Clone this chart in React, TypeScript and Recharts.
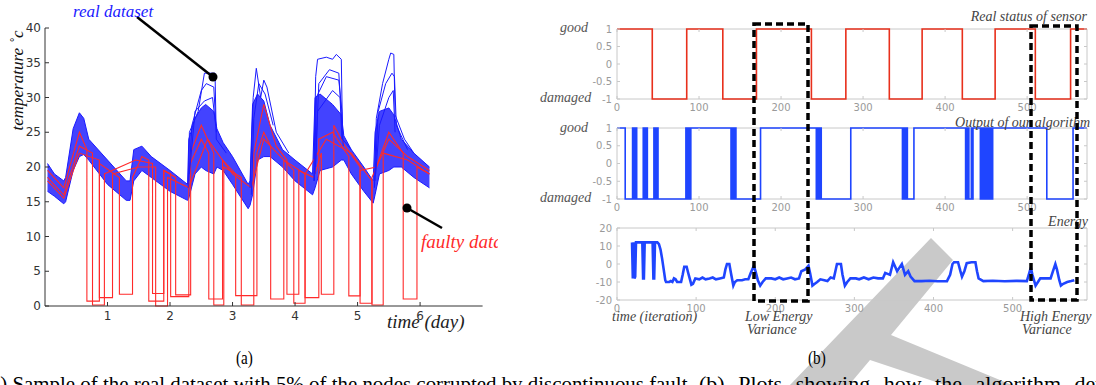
import React from 'react';
import { ComposedChart, LineChart, Line, Area, XAxis, YAxis, ReferenceArea } from 'recharts';

// ---- panel (a): temperature of the sensors (days) ----
const bandDays = [0.04, 0.15, 0.3, 0.33, 0.45, 0.55, 0.62, 0.7, 1.0, 1.3, 1.36, 1.42, 1.55, 1.7, 2.0, 2.28, 2.3, 2.4, 2.5, 2.57, 2.7, 2.75, 2.85, 3.0, 3.25, 3.28, 3.32, 3.4, 3.5, 3.6, 3.8, 4.0, 4.28, 4.32, 4.4, 4.6, 4.74, 4.78, 4.9, 5.1, 5.25, 5.28, 5.35, 5.5, 5.58, 5.7, 5.9, 6.15];
const bandLow = [16.5, 15.8, 14.7, 15, 19.5, 21.5, 21.8, 21, 17.5, 15.2, 15.2, 18, 19.5, 18.5, 16.5, 15.2, 15.5, 19, 20, 19.5, 19, 20, 19.5, 17.5, 14, 14.5, 16, 21, 21.5, 21.5, 20, 18, 16, 17, 19.5, 20, 21, 21, 19, 16.5, 14.8, 16, 19, 19.5, 20, 20, 18.5, 17];
const bandHigh = [20.5, 19, 18, 18.5, 25.5, 27.8, 27, 24, 21, 18, 18, 22.5, 23, 21.5, 19.5, 17.5, 24, 27, 28.5, 29, 28, 25.5, 23.5, 21.5, 17.5, 18, 29, 30.5, 29.5, 26, 22.5, 21, 19, 30, 30.5, 29, 27.5, 24.5, 22.5, 20, 18, 25, 28, 28.5, 27.5, 24, 22, 20];

const spikeA: [number, number][] = [[2.29, 17], [2.31, 25], [2.45, 28], [2.55, 33.5], [2.72, 33.5], [2.74, 24], [2.9, 22]];
const spikeB: [number, number][] = [[2.3, 18], [2.35, 26], [2.5, 31], [2.58, 32], [2.7, 31.5], [2.74, 25]];
const spikeB2: [number, number][] = [[2.31, 19], [2.4, 28], [2.55, 29.5], [2.68, 30], [2.73, 26]];
const spikeC: [number, number][] = [[3.28, 17], [3.33, 30], [3.38, 34.2], [3.45, 30], [3.5, 32.5], [3.55, 31.5], [3.7, 25], [3.9, 22]];
const spikeD: [number, number][] = [[3.3, 16], [3.34, 27], [3.42, 32], [3.52, 30.5], [3.65, 26]];
const spikeE: [number, number][] = [[4.3, 18], [4.33, 33], [4.36, 35.5], [4.5, 35.8], [4.6, 35.5], [4.66, 36.2], [4.74, 35.5], [4.76, 24], [4.9, 22.5]];
const spikeF: [number, number][] = [[4.31, 18], [4.34, 30], [4.5, 33], [4.7, 32.5], [4.75, 28], [4.77, 23]];
const spikeG: [number, number][] = [[4.33, 20], [4.36, 28], [4.6, 31], [4.72, 30], [4.75, 24]];
const spikeG2: [number, number][] = [[4.32, 19], [4.38, 32], [4.55, 34], [4.7, 33.5], [4.75, 26]];
const spikeH: [number, number][] = [[5.27, 17], [5.3, 27], [5.4, 32], [5.5, 35.5], [5.53, 36.4], [5.58, 36.2], [5.6, 27.5], [5.75, 24], [5.9, 22]];
const spikeI: [number, number][] = [[5.28, 18], [5.33, 28], [5.45, 32], [5.55, 33.5], [5.59, 33], [5.62, 26], [5.8, 22.5]];
const spikeJ: [number, number][] = [[5.29, 19], [5.35, 26], [5.5, 30], [5.57, 31], [5.6, 25]];

const faultyA: [number, number][] = [[0.04, 19.5], [0.3, 17], [0.55, 25], [0.67, 22.5], [0.67, 0.7], [0.87, 0.7], [0.87, 20.5], [1.19, 18.5], [1.19, 1.7], [1.4, 1.7], [1.4, 18.5], [1.55, 21.5], [1.66, 21], [1.66, 0.7], [1.9, 0.7], [1.9, 19.5], [2.01, 19], [2.01, 1.35], [2.3, 1.35], [2.3, 20], [2.5, 24], [2.62, 22], [2.62, 1], [2.84, 1], [2.84, 21], [3.05, 19], [3.05, 1.5], [3.39, 1.5], [3.39, 22], [3.5, 25], [3.61, 23], [3.61, 1], [3.82, 1], [3.82, 21], [4.16, 19], [4.16, 1.2], [4.38, 1.2], [4.38, 24], [4.6, 25], [4.86, 21.5], [4.86, 1.45], [5.04, 1.45], [5.04, 19.5], [5.3, 20], [5.5, 25], [5.73, 22], [5.73, 1], [5.95, 1], [5.95, 20], [6.15, 19]];
const faultyB: [number, number][] = [[0.04, 18.5], [0.3, 16], [0.55, 23], [0.76, 22], [0.76, 0.15], [0.95, 0.15], [0.95, 19], [1.45, 21], [1.72, 20.5], [1.72, 1.8], [1.9, 1.8], [1.9, 19.5], [2.09, 18.5], [2.09, 1.6], [2.33, 1.6], [2.33, 22], [2.5, 26], [2.7, 22], [2.7, 0.15], [2.86, 0.15], [2.86, 20], [3.14, 18.5], [3.14, 0.15], [3.34, 0.15], [3.34, 22], [3.5, 29], [3.7, 23], [3.87, 21], [3.87, 1.7], [4.06, 1.7], [4.06, 19.5], [4.3, 18.5], [4.42, 22], [4.42, 1.7], [4.62, 1.7], [4.62, 26], [4.8, 23], [5.04, 20], [5.04, 0.4], [5.23, 0.4], [5.23, 18.5], [5.5, 24], [5.8, 21.5], [6.15, 19.5]];
const faultyC: [number, number][] = [[0.04, 18], [0.3, 15.5], [0.55, 22], [0.87, 21], [0.87, 1.2], [1.08, 1.2], [1.08, 19], [1.5, 20], [1.77, 20], [1.77, 0], [1.96, 0], [1.96, 18.5], [2.3, 17], [2.6, 24], [3.0, 19], [3.3, 17], [3.5, 24], [3.98, 19.5], [3.98, 0.4], [4.16, 0.4], [4.16, 19], [4.5, 24], [4.9, 22], [5.23, 18], [5.23, 0.15], [5.41, 0.15], [5.41, 22], [5.8, 21], [6.15, 19]];

const dayTicks = [1, 2, 3, 4, 5, 6];
const tempTicks = [0, 5, 10, 15, 20, 25, 30, 35, 40];

// ---- panel (b): sensor status and energy (iterations) ----
const realStatus: [number, number][] = [[0, 1], [43, -1], [85, 1], [129, -1], [170, 1], [237, -1], [279, 1], [332, -1], [372, 1], [421, -1], [461, 1], [510, -1], [553, 1], [573, 1]];
const algoStatus: [number, number][] = [
  [0, 1], [10, -1],
  [19, 1], [20, -1], [21, 1], [22, -1], [23, 1], [24, -1],
  [32, 1], [33, -1], [34, 1], [35, -1], [36, 1], [37, -1],
  [45, 1], [46, -1], [47, 1], [48, -1], [49, 1], [50, -1],
  [84, 1], [85, -1], [86, 1], [87, -1], [88, 1], [89, -1], [90, 1],
  [139, -1], [140, 1], [141, -1], [142, 1], [143, -1], [144, 1], [145, -1],
  [175, 1],
  [243, -1], [244, 1], [245, -1], [246, 1], [247, -1], [248, 1], [249, -1],
  [285, 1],
  [348, -1], [349, 1], [350, -1], [351, 1], [352, -1], [353, 1], [354, -1],
  [362, 1],
  [425, -1], [426, 1], [427, -1], [428, 1], [429, -1], [432, 1], [433, -1], [434, 1],
  [443, -1], [444, 1], [445, -1], [446, 1], [447, -1], [448, 1], [449, -1], [450, 1], [451, -1], [452, 1], [453, -1], [454, 1], [455, -1], [456, 1], [457, -1], [458, 1],
  [524, -1], [556, 1], [573, 1],
];
const energy: [number, number][] = [[19, 12], [20, -8], [21, 12], [22, -8], [23, -7], [24, 12], [32, 12], [33, -8], [34, -8], [35, 12], [45, 12], [46, -8], [47, -8], [48, 12], [51, 12], [53, 11], [55, 8], [57, 3], [59, -3], [61, -9], [62, -10], [66, -10], [68, -9.5], [70, -10], [72, -8], [74, -8.5], [76, -10], [81, -10], [83, -6], [85, -1.5], [88, -1.5], [90, -5], [94, -11.5], [96, -11], [99, -8], [104, -8.5], [108, -7.5], [112, -8.5], [117, -8], [121, -7.5], [125, -8.5], [130, -8], [135, -7.5], [137, -3], [139, 0], [142, 0], [144, -5], [147, -12], [149, -10], [152, -9], [158, -9], [162, -8.5], [166, -8.5], [169, -5], [173, -1], [175, -4], [178, -9], [181, -12], [184, -10], [188, -8], [195, -8], [200, -8.5], [205, -7.5], [210, -8.5], [215, -8], [220, -7.5], [225, -8.5], [230, -8], [233, -4], [238, -3], [242, -1], [244, -5], [247, -12], [250, -11], [253, -10], [257, -8.5], [262, -9], [266, -9.5], [270, -7.5], [274, -8], [276, -4], [278, 0], [283, 0], [285, -6], [288, -12], [291, -10], [295, -8], [302, -8], [306, -8.5], [312, -7.5], [318, -8.5], [324, -7.5], [330, -8], [336, -8], [339, -5], [342, -5.5], [345, -6], [349, 1], [352, -2], [354, -4], [357, -2], [360, 0], [362, -3], [364, -6], [366, -5], [368, -4], [371, -7], [373, -8], [376, -9.5], [379, -9.5], [385, -9.5], [395, -9.3], [405, -9.6], [417, -9.5], [421, -6], [424, 0], [426, 1], [431, 1], [434, -4], [436, -7], [439, -4], [442, 0.5], [448, 1], [453, 1], [455, -4], [457, -8], [463, -9.5], [475, -9.3], [490, -9.6], [505, -9.4], [518, -9.5], [521, -5], [523, -2], [525, -6], [529, -12], [532, -10], [535, -8], [548, -8], [551, -4], [554, 0], [556, -3], [559, -9], [561, -12], [564, -11], [569, -10], [574, -9.5], [578, -9]];

const iterTicks = [0, 100, 200, 300, 400, 500];
const statusTicks = [-1, -0.5, 0, 0.5, 1];
const energyTicks = [-20, -10, 0, 10, 20];

const toDay = (pts: [number, number][]) => pts.map(([day, temp]) => ({ day, temp }));
const toIt = (pts: [number, number][]) => pts.map(([it, v]) => ({ it, v }));
const bandData = bandDays.map((day, i) => ({ day, range: [bandLow[i], bandHigh[i]] }));
const spikes = [spikeA, spikeB, spikeB2, spikeC, spikeD, spikeE, spikeF, spikeG, spikeG2, spikeH, spikeI, spikeJ];
const faulty = [faultyA, faultyB, faultyC];

const serif = '"Liberation Serif", "DejaVu Serif", serif';
const sans = '"DejaVu Sans", sans-serif';

// panel (a) ticks point inward, like matlab
const TempTick = ({ x, y, payload }: any) => (
  <g>
    <text x={x} y={y} dy="0.35em" textAnchor="end" fontSize={12} fontFamily={sans} fill="#333">{payload.value}</text>
    <line x1={x + 4} x2={x + 8} y1={y} y2={y} stroke="#333" />
  </g>
);
const DayTick = ({ x, y, payload }: any) => (
  <g>
    <text x={x} y={y} dy="0.71em" textAnchor="middle" fontSize={12} fontFamily={sans} fill="#333">{payload.value}</text>
    <line x1={x} x2={x} y1={y - 5} y2={y - 9} stroke="#333" />
  </g>
);

// panel (b) frame ticks, drawn on both sides of the box
const FrameYTick = ({ x, y, payload, plotW }: any) => (
  <g>
    <text x={x} y={y} dy="0.35em" textAnchor="end" fontSize={10} fontFamily={sans} fill="#9a9a9a">{payload.value}</text>
    <line x1={x + 5} x2={x + 8} y1={y} y2={y} stroke="#c8c8c8" />
    <line x1={x + 5 + plotW - 3} x2={x + 5 + plotW} y1={y} y2={y} stroke="#c8c8c8" />
  </g>
);
const FrameXTick = ({ x, y, payload, plotH }: any) => (
  <g>
    <text x={x} y={y} dy="0.71em" textAnchor="middle" fontSize={10} fontFamily={sans} fill="#9a9a9a">{payload.value}</text>
    <line x1={x} x2={x} y1={y - 5} y2={y - 8} stroke="#c8c8c8" />
    <line x1={x} x2={x} y1={y - 5 - plotH} y2={y - 5 - plotH + 3} stroke="#c8c8c8" />
  </g>
);

const PLOT_W = 470;

function StatusChart({ data, color, plotH }: { data: [number, number][]; color: string; plotH: number }) {
  return (
    <LineChart width={556} height={plotH + 45} margin={{ top: 29, right: 9, bottom: 0, left: 0 }}>
      <XAxis dataKey="it" type="number" domain={[0, 573]} ticks={iterTicks} interval={0} height={16} axisLine={false} tickLine={false} tickSize={0} tickMargin={5} tick={<FrameXTick plotH={plotH} />} />
      <YAxis type="number" domain={[-1, 1]} ticks={statusTicks} interval={0} width={77} axisLine={false} tickLine={false} tickSize={0} tickMargin={5} tick={<FrameYTick plotW={PLOT_W} />} />
      <ReferenceArea x1={0} x2={573} y1={-1} y2={1} fill="none" stroke="#c8c8c8" strokeWidth={1} />
      <Line data={toIt(data)} dataKey="v" type="stepAfter" stroke={color} strokeWidth={1.6} dot={false} isAnimationActive={false} />
    </LineChart>
  );
}

const abs = (left: number, top: number, extra: React.CSSProperties = {}): React.CSSProperties => ({ position: 'absolute', left, top, whiteSpace: 'nowrap', ...extra });
const italic = (size: number, color: string): React.CSSProperties => ({ fontFamily: serif, fontStyle: 'italic', fontSize: size, color, lineHeight: 1 });
const caption = (size: number, sx: number, extra: React.CSSProperties = {}): React.CSSProperties => ({ fontFamily: serif, fontSize: size, lineHeight: 1, color: '#000', transform: `scaleX(${sx})`, transformOrigin: 'left', ...extra });

export default function App() {
  return (
    <div style={{ position: 'absolute', left: 0, top: 0, width: 1096, height: 385, overflow: 'hidden', background: '#fff' }}>
      {/* watermark */}
      <svg width={1096} height={385} style={{ position: 'absolute', left: 0, top: 0 }}>
        <polygon points="931,238 953,260 891,335 1012,385 945,385 870,360 849,385 790,385" fill="#c9c9c9" />
      </svg>

      {/* panel (a) */}
      <div style={{ position: 'absolute', left: 0, top: 0, width: 498, height: 340, overflow: 'hidden' }}>
        <ComposedChart width={498} height={340} margin={{ top: 28, right: 15.4, bottom: 0, left: 0 }}>
          <XAxis dataKey="day" type="number" domain={[0, 7]} ticks={dayTicks} interval={0} height={34} axisLine={{ stroke: '#333' }} tickLine={false} tickSize={0} tickMargin={5} tick={<DayTick />} />
          <YAxis type="number" domain={[0, 40]} ticks={tempTicks} interval={0} width={45} axisLine={{ stroke: '#333' }} tickLine={false} tickSize={0} tickMargin={4} tick={<TempTick />} />
          {faulty.map((f, i) => (
            <Line key={'f' + i} data={toDay(f)} dataKey="temp" type="linear" stroke="#ff2a2a" strokeWidth={1.1} dot={false} isAnimationActive={false} />
          ))}
          <Area data={bandData} dataKey="range" type="linear" stroke="#1a1aff" strokeWidth={1} fill="#1a1aff" fillOpacity={0.82} isAnimationActive={false} />
          {spikes.map((s, i) => (
            <Line key={'s' + i} data={toDay(s)} dataKey="temp" type="linear" stroke="#1a1aff" strokeWidth={1} dot={false} isAnimationActive={false} />
          ))}
        </ComposedChart>
        <svg width={498} height={340} style={{ position: 'absolute', left: 0, top: 0 }}>
          <line x1={137} y1={17} x2={213} y2={77} stroke="#000" strokeWidth={2.5} />
          <circle cx={213} cy={77} r={4.5} fill="#000" />
          <line x1={407} y1={208} x2={442} y2={228} stroke="#000" strokeWidth={2.5} />
          <circle cx={407} cy={208} r={4.5} fill="#000" />
        </svg>
        <div style={abs(73, 3, italic(17, '#1a1aff'))}>real dataset</div>
        <div style={abs(421, 232, italic(19, '#ff2a2a'))}>faulty data</div>
        <div style={abs(387, 312, italic(19, '#222'))}>time (day)</div>
        <div style={abs(-38, 72, { ...italic(17, '#111'), transform: 'rotate(-90deg)', width: 110, textAlign: 'center' })}>temperature ˚c</div>
      </div>

      {/* panel (b) */}
      <div style={{ position: 'absolute', left: 540, top: 0 }}>
        <StatusChart data={realStatus} color="#e8301c" plotH={70} />
      </div>
      <div style={{ position: 'absolute', left: 540, top: 99 }}>
        <StatusChart data={algoStatus} color="#1f45ff" plotH={71} />
      </div>
      <div style={{ position: 'absolute', left: 540, top: 200 }}>
        <LineChart width={556} height={116} margin={{ top: 28, right: 9, bottom: 0, left: 0 }}>
          <XAxis dataKey="it" type="number" domain={[0, 594]} ticks={iterTicks} interval={0} height={16} axisLine={false} tickLine={false} tickSize={0} tickMargin={5} tick={<FrameXTick plotH={72} />} />
          <YAxis type="number" domain={[-20, 20]} ticks={energyTicks} interval={0} width={77} axisLine={false} tickLine={false} tickSize={0} tickMargin={5} tick={<FrameYTick plotW={PLOT_W} />} />
          <ReferenceArea x1={0} x2={594} y1={-20} y2={20} fill="none" stroke="#c8c8c8" strokeWidth={1} />
          <Line data={toIt(energy)} dataKey="v" type="linear" stroke="#1f45ff" strokeWidth={2.6} dot={false} isAnimationActive={false} />
        </LineChart>
      </div>

      <div style={abs(0, 0, { width: 1096, height: 385 })}>
        <div style={abs(560, 21, italic(14, '#555'))}>good</div>
        <div style={abs(540, 91, italic(14, '#555'))}>damaged</div>
        <div style={abs(560, 121, italic(14, '#555'))}>good</div>
        <div style={abs(540, 191, italic(14, '#555'))}>damaged</div>
        <div style={{ ...abs(0, 10, italic(14, '#444')), left: 'auto', right: 9 }}>Real status of sensor</div>
        <div style={{ ...abs(0, 116, italic(14, '#444')), left: 'auto', right: 6 }}>Output of our algorithm</div>
        <div style={{ ...abs(0, 215, italic(14, '#444')), left: 'auto', right: 8 }}>Energy</div>
        <div style={abs(612, 310, italic(14, '#444'))}>time (iteration)</div>
        <div style={abs(745, 310, italic(14, '#444'))}>Low Energy</div>
        <div style={abs(747, 323, italic(14, '#444'))}>Variance</div>
        <div style={abs(1020, 310, italic(14, '#444'))}>High Energy</div>
        <div style={abs(1022, 323, italic(14, '#444'))}>Variance</div>
      </div>

      {/* dashed highlight boxes */}
      <svg width={1096} height={385} style={{ position: 'absolute', left: 0, top: 0 }}>
        <rect x={754} y={24} width={54} height={277} fill="none" stroke="#000" strokeWidth={3.5} strokeDasharray="7 4" />
        <rect x={1031} y={26} width={46} height={274} fill="none" stroke="#000" strokeWidth={3.5} strokeDasharray="7 4" />
      </svg>

      {/* caption */}
      <div style={abs(236, 348, caption(19, 0.8))}>(a)</div>
      <div style={abs(808, 348, caption(19, 0.8))}>(b)</div>
      <div style={abs(-16, 373, caption(22, 0.95))}>(a) Sample of the real dataset with 5% of the nodes corrupted by discontinuous fault.</div>
      <div style={abs(699, 373, caption(22, 1, { wordSpacing: 8 }))}>(b) Plots showing how the algorithm detects the faulty node</div>
    </div>
  );
}
